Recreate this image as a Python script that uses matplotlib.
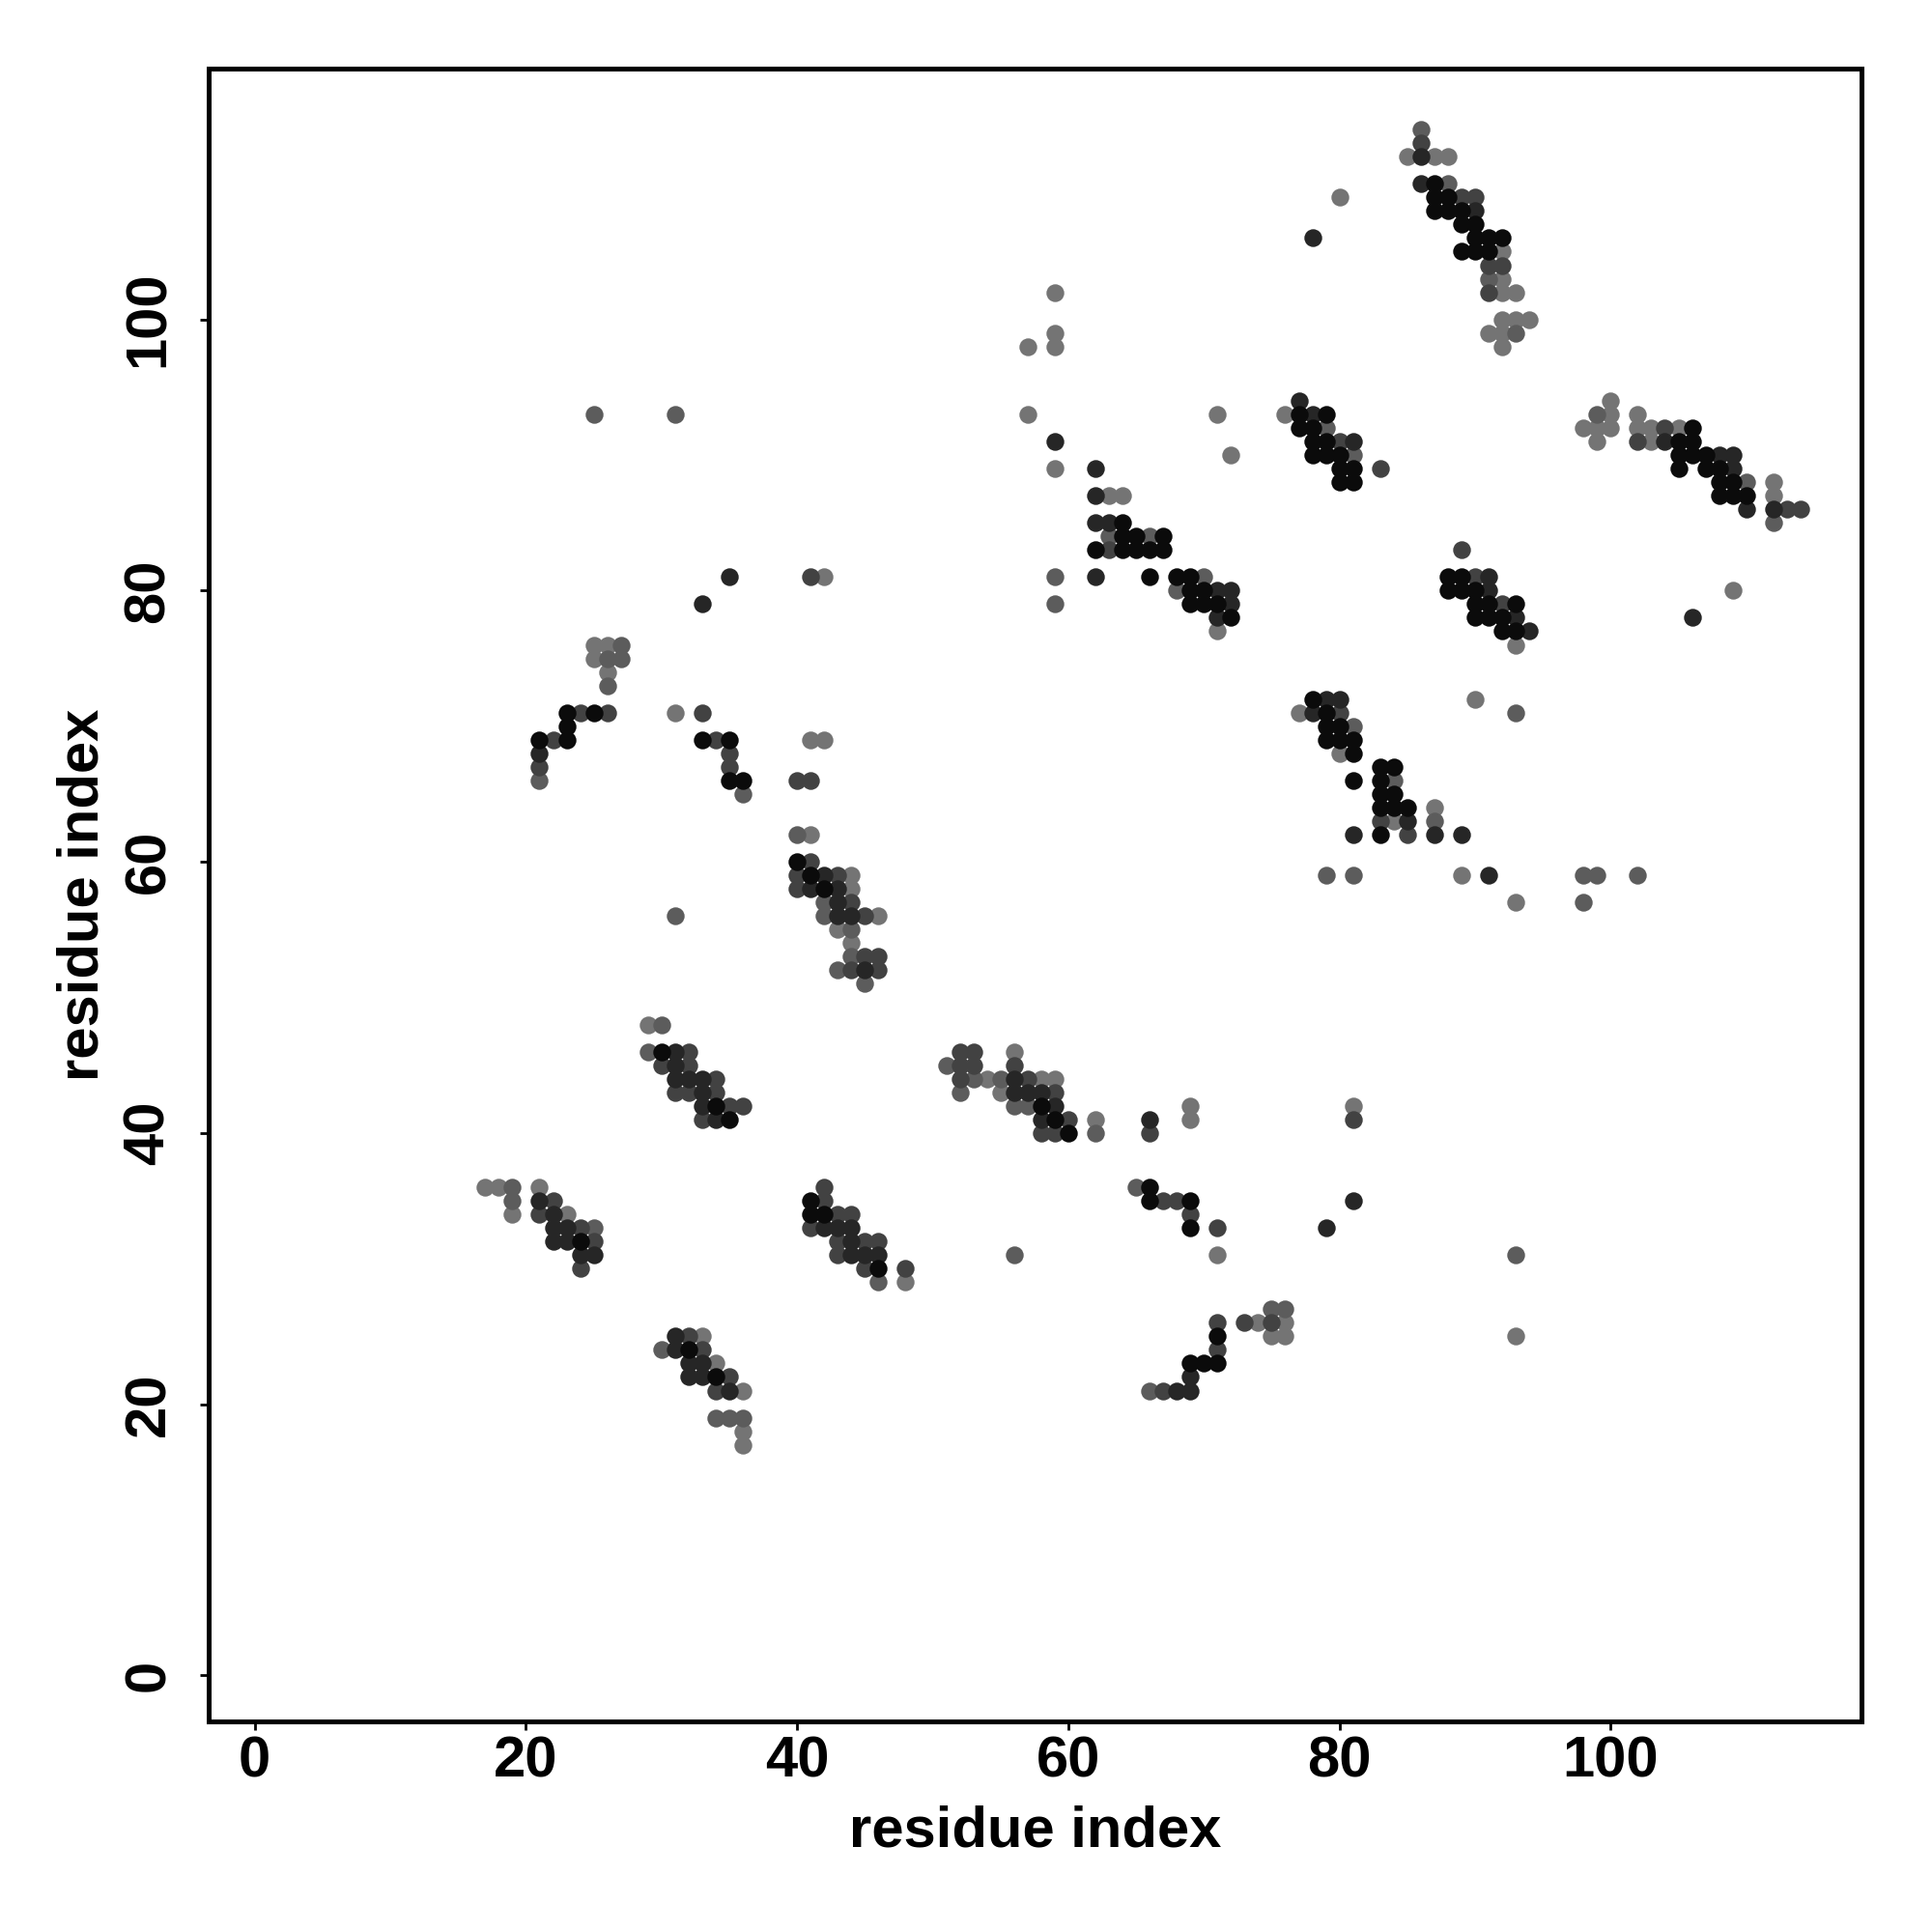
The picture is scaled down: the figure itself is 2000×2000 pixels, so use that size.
import numpy as np
import matplotlib
matplotlib.use('Agg')
import matplotlib.pyplot as plt

plt.rcParams['font.family'] = ['Liberation Sans', 'DejaVu Sans']
plt.rcParams['font.weight'] = 'bold'

# contacts (residue i, residue j) grouped by gray level of the marker
black_pts = [(24, 32), (32, 24), (34, 22),
             (30, 46), (34, 42), (35, 41), (41, 35), (41, 34), (42, 34), (46, 30),
             (23, 71), (25, 71), (23, 70), (21, 69), (23, 69), (33, 69), (35, 69), (35, 66),
             (36, 66), (40, 60), (41, 59), (42, 58),
             (58, 42), (59, 41), (60, 40), (66, 36), (66, 35), (69, 35), (69, 33), (71, 25),
             (69, 23), (70, 23), (71, 23),
             (64, 85), (64, 84), (65, 84), (67, 84), (62, 83), (64, 83), (65, 83), (66, 83),
             (67, 83), (66, 81), (68, 81), (69, 81), (69, 80), (70, 80), (69, 79), (70, 79),
             (71, 79), (72, 78),
             (78, 72), (79, 71), (79, 70), (80, 70), (79, 69), (80, 69), (81, 69), (81, 68),
             (83, 67), (84, 67), (81, 66), (83, 66), (83, 65), (84, 65), (83, 64), (84, 64),
             (85, 64), (83, 62),
             (77, 93), (79, 93), (77, 92), (78, 92), (78, 91), (79, 91), (78, 90), (79, 90),
             (80, 90), (80, 89), (81, 89), (80, 88), (81, 88), (88, 81), (89, 81), (88, 80),
             (89, 80), (90, 80), (90, 79), (91, 79), (93, 79), (90, 78), (91, 78), (92, 78),
             (92, 77), (93, 77),
             (87, 110), (87, 109), (88, 109), (87, 108), (88, 108), (89, 108), (89, 107),
             (90, 107), (90, 106), (91, 106), (92, 106), (89, 105), (90, 105), (91, 105),
             (106, 92), (105, 91), (106, 91), (105, 90), (106, 90), (107, 90), (105, 89),
             (107, 89), (108, 89), (108, 88), (109, 88), (108, 87), (109, 87), (110, 87)]

dark_pts = [(21, 35), (22, 34), (22, 33), (23, 33), (22, 32), (23, 32), (24, 31), (25, 31),
            (31, 25), (31, 24), (32, 23), (33, 23), (32, 22), (33, 22), (35, 21),
            (31, 46), (31, 45), (31, 44), (32, 44), (33, 44), (33, 43), (33, 42), (34, 41),
            (42, 33), (43, 33), (44, 33), (44, 32), (44, 31), (45, 31), (46, 31),
            (35, 81), (33, 79), (21, 68), (42, 59), (41, 58), (43, 58), (43, 57), (43, 56),
            (44, 56), (45, 52),
            (56, 44), (56, 43), (57, 43), (58, 43), (59, 42), (58, 41), (66, 41), (69, 22),
            (68, 21), (69, 21),
            (81, 35), (79, 33),
            (59, 91), (62, 89), (62, 87), (62, 85), (63, 85), (62, 81), (71, 80), (72, 80),
            (72, 79), (71, 78),
            (79, 72), (80, 72), (78, 71), (85, 63), (81, 62), (87, 62), (89, 62), (91, 59),
            (77, 94), (78, 93), (81, 91), (91, 81), (91, 80), (93, 78), (94, 77),
            (86, 112), (86, 110), (90, 108), (78, 106),
            (104, 91), (108, 90), (109, 90), (109, 89), (110, 86), (112, 86), (106, 78)]

mid_pts = [(22, 35), (21, 34), (24, 33), (25, 32), (24, 30), (32, 25), (33, 24), (35, 22),
           (34, 21),
           (32, 46), (30, 45), (32, 45), (34, 44), (31, 43), (32, 43), (34, 43), (35, 42),
           (36, 42), (33, 41), (42, 36), (42, 35), (43, 34), (44, 34), (41, 33), (43, 32),
           (45, 32), (46, 32), (43, 31), (45, 30), (48, 30),
           (41, 81), (24, 71), (26, 71), (33, 71), (22, 69), (34, 69), (35, 68), (21, 67),
           (35, 67), (40, 66), (41, 66), (41, 60), (40, 59), (43, 59), (40, 58), (44, 57),
           (45, 56), (45, 53), (46, 53), (44, 52), (46, 52),
           (52, 46), (53, 46), (52, 45), (53, 45), (56, 45), (52, 44), (57, 44), (59, 43),
           (60, 41), (58, 40), (59, 40), (66, 40), (67, 35), (68, 35), (69, 34), (71, 33),
           (71, 26), (73, 26), (71, 24), (67, 21),
           (81, 41), (75, 26),
           (63, 83),
           (80, 71), (83, 63), (85, 62),
           (80, 91), (83, 89), (89, 83), (90, 81), (92, 79),
           (86, 113), (89, 109), (90, 109), (91, 104), (92, 104), (91, 102),
           (104, 92), (102, 91), (113, 86), (114, 86)]

gray_pts = [(19, 36), (19, 35), (25, 33), (30, 24), (34, 19), (35, 19), (36, 19),
            (30, 48), (29, 46), (46, 29),
            (27, 76), (26, 75), (27, 75), (26, 73), (21, 66), (36, 65), (40, 62), (42, 57),
            (31, 56), (42, 56), (44, 55), (44, 53), (43, 52), (45, 51),
            (51, 45), (53, 44), (55, 44), (52, 43), (56, 42), (57, 42), (62, 40), (65, 36),
            (56, 31), (66, 21),
            (93, 31), (75, 27), (76, 27),
            (63, 84), (66, 84), (59, 81), (70, 81), (68, 80), (59, 79),
            (93, 71), (81, 70), (84, 66), (87, 63), (79, 59), (81, 59),
            (79, 92), (81, 90),
            (86, 114), (88, 110), (91, 103), (93, 99),
            (99, 93), (110, 88), (112, 85), (98, 59), (99, 59), (102, 59), (98, 57),
            (25, 93), (31, 93)]

light_pts = [(17, 36), (18, 36), (19, 34), (21, 36), (23, 34), (33, 25), (34, 23), (36, 21),
             (36, 18), (36, 17),
             (29, 48), (48, 29),
             (42, 81), (25, 76), (26, 76), (25, 75), (26, 74), (31, 71), (41, 69), (42, 69),
             (41, 62), (44, 59), (44, 58), (46, 56), (43, 55), (44, 54),
             (56, 46), (54, 44), (58, 44), (59, 44), (55, 43), (69, 42), (62, 41), (69, 41),
             (71, 31),
             (81, 42), (93, 25), (74, 26), (76, 26), (75, 25), (76, 25),
             (59, 102), (59, 99), (57, 98), (59, 98), (57, 93), (71, 93), (72, 90), (59, 89),
             (63, 87), (64, 87), (71, 77),
             (90, 72), (77, 71), (80, 68), (87, 64), (84, 63), (89, 59), (93, 57),
             (76, 93), (93, 76),
             (85, 112), (87, 112), (88, 112), (80, 109), (92, 105), (92, 103), (92, 102),
             (93, 102), (92, 100), (93, 100), (94, 100), (91, 99), (92, 99), (92, 98),
             (100, 94), (100, 93), (102, 93), (98, 92), (99, 92), (100, 92), (102, 92),
             (103, 92), (105, 92), (99, 91), (103, 91), (112, 88), (112, 87), (109, 80)]

tick_vals = [0, 20, 40, 60, 80, 100]

fig = plt.figure(figsize=(10, 10), dpi=200)
ax = fig.add_axes([0.108, 0.109, 0.8555, 0.8555])

# light first so darker contacts sit on top
for pts, col in [(light_pts, '#747474'), (gray_pts, '#5c5c5c'), (mid_pts, '#424242'),
                 (dark_pts, '#262626'), (black_pts, '#0b0b0b')]:
    arr = np.array(pts)
    ax.scatter(arr[:, 0], arr[:, 1], s=44, c=col, linewidths=0, zorder=3)

ax.set_xlim(-3.4, 118.5)
ax.set_ylim(-3.4, 118.5)
ax.set_xticks(tick_vals)
ax.set_yticks(tick_vals)
ax.tick_params(length=3.2, width=1.0, labelsize=21.5)
ax.tick_params(axis='x', pad=2)
ax.tick_params(axis='y', pad=9)
plt.setp(ax.get_yticklabels(), rotation=90, va='center')
for sp in ax.spines.values():
    sp.set_linewidth(1.8)

ax.set_xlabel('residue index', fontsize=21.5, fontweight='bold', labelpad=6)
ax.set_ylabel('residue index', fontsize=21.5, fontweight='bold', labelpad=5)

fig.savefig('out.png', dpi=200, facecolor='white')
